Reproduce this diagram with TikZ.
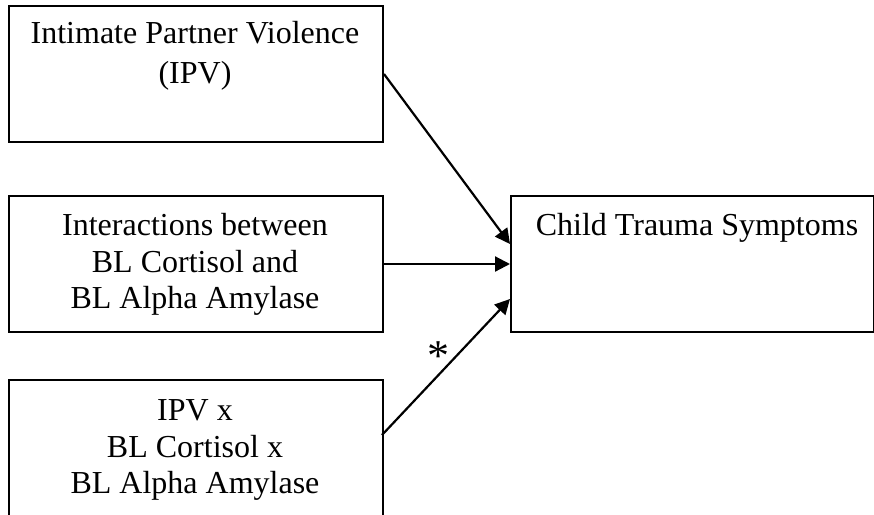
\documentclass[tikz,border=0pt]{standalone}
\usepackage{fontspec}
\setmainfont{Liberation Serif}
\usetikzlibrary{arrows.meta}
\begin{document}
\begin{tikzpicture}[x=1pt,y=-1pt,
  box/.style={draw, line width=2pt, rectangle, inner sep=0pt, anchor=north west},
  txt/.style={anchor=base, font=\fontsize{32}{37}\selectfont, inner sep=0pt},
  arr/.style={line width=2.2pt, -{Triangle[length=15pt,width=15pt]}}]
\useasboundingbox (0,0) rectangle (874,514);
\clip (0,0) rectangle (874,514);
\node[box, minimum width=374pt, minimum height=136pt] (b1) at (8,5) {};
\node[box, minimum width=374pt, minimum height=136pt] (b2) at (8,195) {};
\node[box, minimum width=374pt, minimum height=160pt] (b3) at (8,379) {};
\node[box, minimum width=363pt, minimum height=136pt] (r) at (510,195) {};
\coordinate (s3) at (382,435);
\node[txt] (t1a) at (195,43) {Intimate Partner Violence};
\node[txt] (t1b) at (195,83) {(IPV)};
\node[txt] (t2a) at (195,235) {Interactions between};
\node[txt] (t2b) at (195,272) {BL Cortisol and};
\node[txt] (t2c) at (195,308) {BL Alpha Amylase};
\node[txt] (t3a) at (195,420) {IPV x};
\node[txt] (t3b) at (195,457) {BL Cortisol x};
\node[txt] (t3c) at (195,493) {BL Alpha Amylase};
\node[txt] (tr) at (697,235) {Child Trauma Symptoms};
\draw[arr] (b1.east) -- ([yshift=20pt]r.west);
\draw[arr] (b2.east) -- (r.west);
\draw[arr] (s3) -- ([yshift=-35pt]r.west);
\node[anchor=center, inner sep=0pt, font=\fontsize{44}{44}\selectfont] (star) at (438,356) {*};
\end{tikzpicture}
\end{document}
